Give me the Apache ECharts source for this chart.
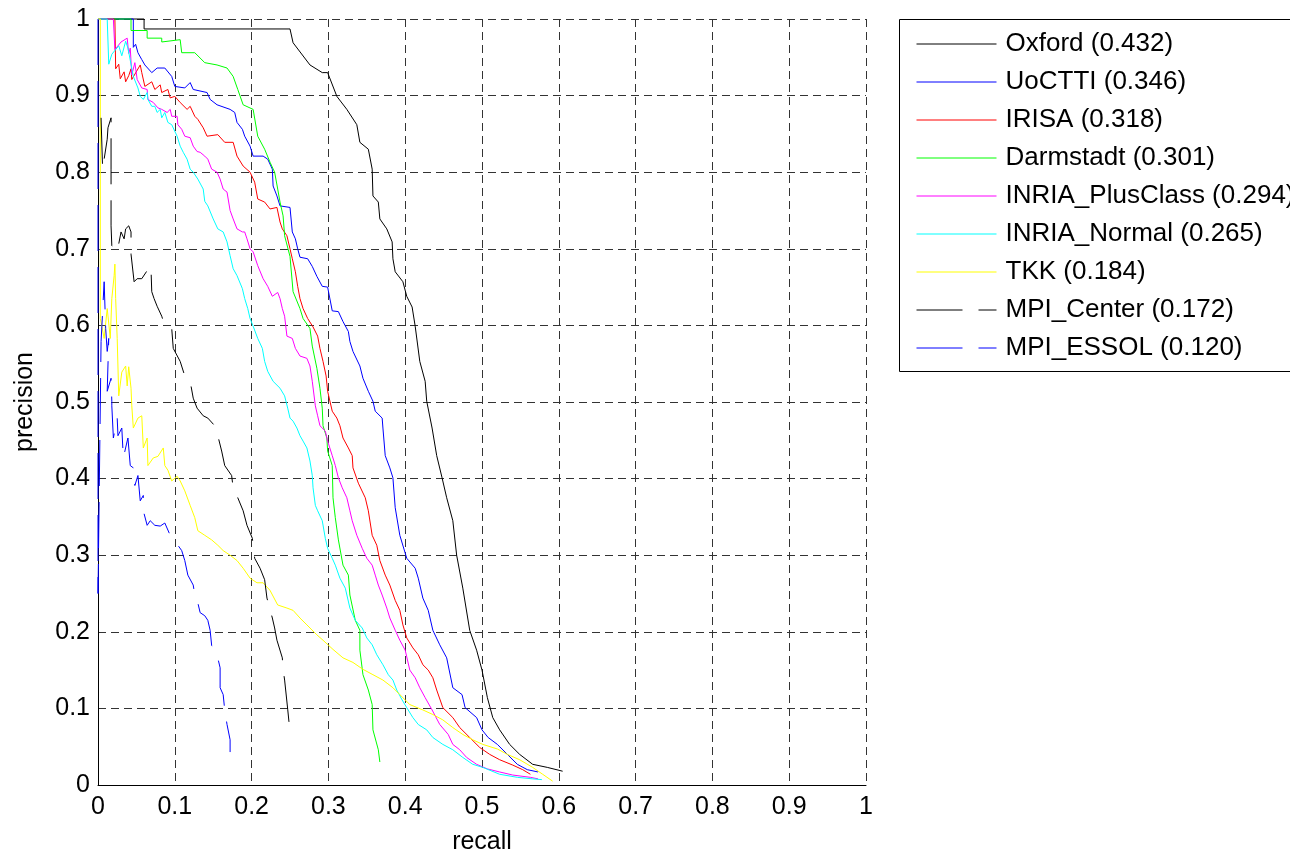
<!DOCTYPE html>
<html>
<head>
<meta charset="utf-8">
<title>precision / recall</title>
<script src="https://cdn.jsdelivr.net/npm/echarts@6/dist/echarts.min.js"></script>
<style>
  html, body { margin: 0; padding: 0; background: #fff; }
  #chart { width: 1290px; height: 860px; }
</style>
</head>
<body>
<div id="chart"></div>
<script>
// method names and AP scores shown in the legend
const methods = ["Oxford", "UoCTTI", "IRISA", "Darmstadt", "INRIA_PlusClass",
  "INRIA_Normal", "TKK", "MPI_Center", "MPI_ESSOL"];
const apScores = ["0.432", "0.346", "0.318", "0.301", "0.294", "0.265", "0.184", "0.172", "0.120"];
const axisTicks = [0, 0.1, 0.2, 0.3, 0.4, 0.5, 0.6, 0.7, 0.8, 0.9, 1];

// [recall, precision]
const oxford = [[0, 1], [0.060, 1], [0.060, 0.987], [0.198, 0.987], [0.25, 0.987], [0.254, 0.969],
  [0.276, 0.94], [0.292, 0.93], [0.299, 0.93], [0.311, 0.899], [0.324, 0.882], [0.337, 0.862],
  [0.341, 0.839], [0.352, 0.83], [0.357, 0.804], [0.358, 0.769], [0.365, 0.761], [0.367, 0.739],
  [0.376, 0.726], [0.383, 0.709], [0.384, 0.687], [0.387, 0.67], [0.397, 0.657], [0.402, 0.638],
  [0.409, 0.624], [0.413, 0.599], [0.419, 0.553], [0.426, 0.527], [0.428, 0.501], [0.435, 0.466],
  [0.441, 0.43], [0.448, 0.401], [0.454, 0.375], [0.462, 0.345], [0.467, 0.3], [0.475, 0.257],
  [0.484, 0.202], [0.493, 0.176], [0.5, 0.15], [0.507, 0.114], [0.514, 0.088], [0.523, 0.072],
  [0.536, 0.053], [0.549, 0.04], [0.566, 0.027], [0.585, 0.023], [0.605, 0.018]];

const uoctti = [[0, 1], [0.046, 1], [0.046, 0.963], [0.049, 0.967], [0.052, 0.956], [0.057, 0.947],
  [0.061, 0.94], [0.07, 0.93], [0.077, 0.936], [0.087, 0.936], [0.096, 0.925], [0.1, 0.912],
  [0.113, 0.91], [0.12, 0.917], [0.124, 0.908], [0.142, 0.904], [0.146, 0.895], [0.155, 0.888],
  [0.172, 0.882], [0.178, 0.878], [0.181, 0.865], [0.188, 0.856], [0.191, 0.847], [0.198, 0.834],
  [0.202, 0.821], [0.215, 0.821], [0.221, 0.817], [0.227, 0.804], [0.228, 0.782], [0.233, 0.769],
  [0.237, 0.756], [0.25, 0.754], [0.253, 0.722], [0.257, 0.713], [0.26, 0.7], [0.263, 0.689],
  [0.273, 0.687], [0.279, 0.677], [0.285, 0.664], [0.292, 0.651], [0.299, 0.65], [0.305, 0.619],
  [0.313, 0.618], [0.319, 0.605], [0.326, 0.592], [0.328, 0.579], [0.332, 0.566], [0.341, 0.547],
  [0.345, 0.531], [0.352, 0.514], [0.358, 0.501], [0.361, 0.488], [0.37, 0.479], [0.371, 0.466],
  [0.374, 0.43], [0.38, 0.414], [0.384, 0.401], [0.387, 0.362], [0.393, 0.326], [0.402, 0.296],
  [0.413, 0.283], [0.417, 0.27], [0.423, 0.244], [0.43, 0.228], [0.436, 0.202], [0.445, 0.183],
  [0.454, 0.166], [0.462, 0.127], [0.474, 0.118], [0.478, 0.101], [0.493, 0.088], [0.5, 0.072],
  [0.508, 0.062], [0.52, 0.053], [0.533, 0.04], [0.546, 0.027], [0.559, 0.02], [0.573, 0.017]];

const irisa = [[0, 1], [0.022, 1], [0.023, 0.935], [0.027, 0.941], [0.029, 0.922], [0.034, 0.931],
  [0.036, 0.918], [0.04, 0.926], [0.043, 0.935], [0.044, 0.921], [0.055, 0.94], [0.057, 0.93],
  [0.061, 0.912], [0.07, 0.918], [0.074, 0.908], [0.081, 0.914], [0.083, 0.904], [0.091, 0.908],
  [0.094, 0.897], [0.1, 0.899], [0.107, 0.891], [0.116, 0.882], [0.12, 0.886], [0.126, 0.873],
  [0.13, 0.869], [0.137, 0.858], [0.142, 0.847], [0.156, 0.849], [0.165, 0.839], [0.176, 0.839],
  [0.181, 0.821], [0.189, 0.808], [0.198, 0.8], [0.204, 0.787], [0.208, 0.765], [0.217, 0.761],
  [0.224, 0.752], [0.233, 0.754], [0.237, 0.735], [0.24, 0.726], [0.246, 0.717], [0.25, 0.7],
  [0.253, 0.687], [0.257, 0.67], [0.26, 0.651], [0.263, 0.635], [0.267, 0.622], [0.273, 0.609],
  [0.28, 0.598], [0.286, 0.586], [0.289, 0.57], [0.293, 0.553], [0.297, 0.534], [0.299, 0.514],
  [0.305, 0.488], [0.311, 0.479], [0.315, 0.469], [0.319, 0.453], [0.326, 0.44], [0.331, 0.43],
  [0.332, 0.414], [0.339, 0.394], [0.348, 0.375], [0.352, 0.358], [0.357, 0.326], [0.363, 0.313],
  [0.367, 0.293], [0.374, 0.274], [0.38, 0.261], [0.387, 0.241], [0.393, 0.228], [0.397, 0.209],
  [0.402, 0.192], [0.41, 0.179], [0.417, 0.17], [0.423, 0.157], [0.43, 0.15], [0.436, 0.14],
  [0.441, 0.124], [0.449, 0.101], [0.462, 0.088], [0.471, 0.075], [0.484, 0.062], [0.497, 0.049],
  [0.51, 0.04], [0.523, 0.033], [0.54, 0.026], [0.553, 0.02], [0.563, 0.014]];

const darmstadt = [[0, 1], [0.043, 1], [0.043, 0.985], [0.064, 0.985], [0.064, 0.975], [0.083, 0.975],
  [0.083, 0.97], [0.107, 0.973], [0.109, 0.956], [0.126, 0.956], [0.139, 0.943], [0.155, 0.94],
  [0.168, 0.936], [0.176, 0.925], [0.182, 0.908], [0.189, 0.888], [0.202, 0.882], [0.208, 0.847],
  [0.217, 0.83], [0.224, 0.813], [0.23, 0.8], [0.234, 0.778], [0.237, 0.761], [0.241, 0.743],
  [0.243, 0.717], [0.25, 0.69], [0.254, 0.644], [0.263, 0.622], [0.267, 0.609], [0.276, 0.596],
  [0.279, 0.573], [0.285, 0.544], [0.289, 0.518], [0.292, 0.492], [0.293, 0.469], [0.298, 0.453],
  [0.299, 0.436], [0.305, 0.417], [0.306, 0.375], [0.309, 0.349], [0.313, 0.32], [0.319, 0.287],
  [0.326, 0.274], [0.328, 0.248], [0.335, 0.215], [0.341, 0.202], [0.341, 0.176], [0.345, 0.144],
  [0.352, 0.124], [0.357, 0.105], [0.358, 0.072], [0.365, 0.046], [0.367, 0.03]];

const inriaPlus = [[0, 1], [0.02, 1], [0.022, 0.96], [0.03, 0.97], [0.038, 0.975], [0.04, 0.955],
  [0.042, 0.962], [0.044, 0.927], [0.048, 0.943], [0.051, 0.921], [0.057, 0.91], [0.064, 0.908],
  [0.065, 0.895], [0.072, 0.891], [0.078, 0.884], [0.083, 0.882], [0.09, 0.878], [0.094, 0.882],
  [0.096, 0.873], [0.103, 0.873], [0.104, 0.862], [0.109, 0.856], [0.113, 0.847], [0.12, 0.845],
  [0.124, 0.834], [0.129, 0.827], [0.133, 0.826], [0.139, 0.821], [0.143, 0.817], [0.148, 0.804],
  [0.155, 0.8], [0.159, 0.791], [0.163, 0.778], [0.168, 0.774], [0.172, 0.75], [0.176, 0.739],
  [0.181, 0.726], [0.188, 0.722], [0.191, 0.722], [0.194, 0.713], [0.198, 0.7], [0.202, 0.696],
  [0.208, 0.678], [0.215, 0.661], [0.221, 0.651], [0.227, 0.638], [0.234, 0.643], [0.237, 0.635],
  [0.24, 0.622], [0.243, 0.612], [0.246, 0.586], [0.253, 0.583], [0.257, 0.57], [0.263, 0.56],
  [0.272, 0.557], [0.276, 0.547], [0.279, 0.527], [0.283, 0.495], [0.286, 0.482], [0.289, 0.469],
  [0.296, 0.462], [0.299, 0.449], [0.305, 0.43], [0.309, 0.417], [0.313, 0.401], [0.318, 0.388],
  [0.324, 0.375], [0.328, 0.358], [0.331, 0.345], [0.337, 0.326], [0.344, 0.309], [0.35, 0.296],
  [0.357, 0.287], [0.361, 0.274], [0.365, 0.261], [0.37, 0.248], [0.376, 0.231], [0.38, 0.218],
  [0.387, 0.202], [0.393, 0.189], [0.4, 0.176], [0.406, 0.15], [0.413, 0.14], [0.419, 0.127],
  [0.426, 0.114], [0.435, 0.098], [0.445, 0.079], [0.456, 0.066], [0.462, 0.053], [0.471, 0.046],
  [0.48, 0.036], [0.493, 0.027], [0.507, 0.021], [0.523, 0.017], [0.54, 0.013], [0.563, 0.01],
  [0.573, 0.008]];

const inriaNormal = [[0, 1], [0.012, 1], [0.014, 0.941], [0.018, 0.954], [0.027, 0.965], [0.031, 0.952],
  [0.036, 0.971], [0.039, 0.962], [0.046, 0.925], [0.052, 0.91], [0.055, 0.899], [0.059, 0.895],
  [0.064, 0.904], [0.065, 0.895], [0.07, 0.886], [0.074, 0.886], [0.077, 0.878], [0.081, 0.882],
  [0.083, 0.871], [0.087, 0.878], [0.091, 0.865], [0.096, 0.862], [0.103, 0.847], [0.107, 0.834],
  [0.111, 0.826], [0.116, 0.817], [0.12, 0.804], [0.124, 0.8], [0.13, 0.791], [0.137, 0.778],
  [0.139, 0.762], [0.143, 0.756], [0.15, 0.739], [0.156, 0.726], [0.163, 0.722], [0.168, 0.709],
  [0.172, 0.691], [0.176, 0.674], [0.181, 0.665], [0.188, 0.648], [0.191, 0.635], [0.195, 0.622],
  [0.198, 0.609], [0.202, 0.599], [0.208, 0.583], [0.214, 0.57], [0.217, 0.553], [0.221, 0.54],
  [0.228, 0.527], [0.237, 0.518], [0.243, 0.508], [0.247, 0.492], [0.25, 0.479], [0.254, 0.475],
  [0.259, 0.466], [0.263, 0.456], [0.267, 0.449], [0.272, 0.44], [0.276, 0.423], [0.279, 0.404],
  [0.28, 0.388], [0.283, 0.365], [0.286, 0.358], [0.292, 0.345], [0.296, 0.322], [0.299, 0.309],
  [0.305, 0.296], [0.309, 0.287], [0.315, 0.27], [0.322, 0.257], [0.328, 0.231], [0.335, 0.215],
  [0.344, 0.205], [0.35, 0.192], [0.357, 0.183], [0.363, 0.17], [0.371, 0.157], [0.378, 0.144],
  [0.384, 0.137], [0.389, 0.124], [0.396, 0.111], [0.402, 0.101], [0.41, 0.088], [0.417, 0.079],
  [0.428, 0.072], [0.436, 0.062], [0.449, 0.053], [0.462, 0.046], [0.475, 0.036], [0.488, 0.027],
  [0.501, 0.023], [0.523, 0.014], [0.546, 0.01], [0.566, 0.008], [0.578, 0.007]];

const tkk = [[0, 1], [0.003, 1], [0.003, 0.609], [0.008, 0.583], [0.012, 0.622], [0.016, 0.583],
  [0.018, 0.635], [0.021, 0.665], [0.022, 0.68], [0.023, 0.635], [0.025, 0.583], [0.027, 0.508],
  [0.031, 0.539], [0.036, 0.547], [0.038, 0.521], [0.04, 0.546], [0.043, 0.518], [0.044, 0.495],
  [0.046, 0.466], [0.052, 0.479], [0.057, 0.482], [0.059, 0.44], [0.064, 0.453], [0.065, 0.417],
  [0.072, 0.427], [0.078, 0.429], [0.085, 0.44], [0.087, 0.417], [0.091, 0.411], [0.096, 0.397],
  [0.103, 0.403], [0.107, 0.397], [0.113, 0.384], [0.12, 0.365], [0.126, 0.349], [0.13, 0.332],
  [0.139, 0.326], [0.148, 0.32], [0.156, 0.313], [0.163, 0.306], [0.172, 0.3], [0.181, 0.293],
  [0.189, 0.283], [0.198, 0.27], [0.207, 0.264], [0.215, 0.264], [0.224, 0.254], [0.234, 0.235],
  [0.246, 0.231], [0.254, 0.228], [0.263, 0.218], [0.272, 0.209], [0.285, 0.196], [0.293, 0.189],
  [0.306, 0.177], [0.319, 0.166], [0.332, 0.16], [0.345, 0.151], [0.358, 0.144], [0.371, 0.137],
  [0.384, 0.127], [0.393, 0.118], [0.406, 0.105], [0.423, 0.098], [0.436, 0.092], [0.449, 0.085],
  [0.462, 0.075], [0.475, 0.066], [0.488, 0.059], [0.501, 0.053], [0.52, 0.047], [0.533, 0.04],
  [0.549, 0.033], [0.566, 0.023], [0.579, 0.014], [0.592, 0.005]];

const mpiCenter = [[0.004, 0.871], [0.006, 0.804], [0.012, 0.843], [0.013, 0.858], [0.017, 0.871],
  [0.017, 0.804], [0.017, 0.73], [0.018, 0.704], [0.025, 0.696], [0.03, 0.722], [0.034, 0.713],
  [0.036, 0.726], [0.04, 0.73], [0.043, 0.722], [0.043, 0.693], [0.047, 0.657], [0.051, 0.661],
  [0.057, 0.661], [0.063, 0.67], [0.066, 0.678], [0.069, 0.674], [0.07, 0.644], [0.073, 0.635],
  [0.077, 0.625], [0.083, 0.612], [0.087, 0.599], [0.096, 0.596], [0.098, 0.57], [0.107, 0.553],
  [0.113, 0.534], [0.12, 0.527], [0.124, 0.505], [0.129, 0.492], [0.137, 0.482], [0.143, 0.479],
  [0.152, 0.469], [0.156, 0.456], [0.161, 0.436], [0.165, 0.417], [0.174, 0.404], [0.176, 0.388],
  [0.182, 0.375], [0.189, 0.358], [0.194, 0.339], [0.201, 0.322], [0.204, 0.296], [0.211, 0.283],
  [0.217, 0.268], [0.22, 0.244], [0.227, 0.218], [0.23, 0.205], [0.233, 0.189], [0.24, 0.166],
  [0.241, 0.151], [0.243, 0.137], [0.247, 0.099], [0.249, 0.079]];

const mpiEssol = [[0, 1], [0, 0.25], [0.004, 0.579], [0.008, 0.657], [0.01, 0.596], [0.012, 0.566],
  [0.014, 0.583], [0.012, 0.514], [0.017, 0.531], [0.018, 0.501], [0.018, 0.495], [0.02, 0.453],
  [0.025, 0.479], [0.026, 0.456], [0.031, 0.466], [0.033, 0.427], [0.038, 0.449], [0.039, 0.453],
  [0.042, 0.417], [0.046, 0.414], [0.048, 0.391], [0.052, 0.404], [0.055, 0.371], [0.059, 0.378],
  [0.059, 0.358], [0.064, 0.339], [0.068, 0.345], [0.074, 0.339], [0.081, 0.338], [0.087, 0.342],
  [0.094, 0.326], [0.1, 0.319], [0.104, 0.313], [0.109, 0.306], [0.113, 0.293], [0.117, 0.274],
  [0.124, 0.261], [0.126, 0.248], [0.129, 0.242], [0.133, 0.225], [0.139, 0.221], [0.143, 0.215],
  [0.146, 0.202], [0.148, 0.182], [0.155, 0.17], [0.159, 0.153], [0.159, 0.127], [0.163, 0.118],
  [0.165, 0.098], [0.168, 0.079], [0.172, 0.059], [0.172, 0.043]];

const curves = [oxford, uoctti, irisa, darmstadt, inriaPlus, inriaNormal, tkk, mpiCenter, mpiEssol];
const colors = ["#000000", "#0000ff", "#ff0000", "#00ff00", "#ff00ff", "#00ffff", "#ffff00", "#000000", "#0000ff"];
const dashed = [false, false, false, false, false, false, false, true, true];

const font = "'Liberation Sans', Arial, sans-serif";
const chart = echarts.init(document.getElementById("chart"));

const series = curves.map((data, i) => ({
  name: methods[i] + " (" + apScores[i] + ")",
  type: "line",
  data: data,
  symbol: "none",
  clip: false,
  color: colors[i],
  lineStyle: {
    color: colors[i],
    width: 1,
    type: dashed[i] ? [46, 16] : "solid",
  },
}));

const gridLine = { show: true, lineStyle: { color: "#333", width: 1, type: [8, 5] } };

chart.setOption({
  animation: false,
  backgroundColor: "#fff",
  textStyle: { fontFamily: font },
  grid: { left: 98, top: 19, width: 768, height: 769 },
  graphic: [{
    type: "rect",
    left: 899, top: 19, z: 0,
    shape: { width: 430, height: 352 },
    style: { fill: "#fff", stroke: "#000", lineWidth: 1 },
  }],
  legend: {
    orient: "vertical",
    left: 916,
    top: 31,
    itemWidth: 80,
    itemHeight: 24,
    itemGap: 12,
    padding: 0,
    z: 10,
    // hide the marker dot, keep only the line sample
    itemStyle: { color: "transparent", borderWidth: 0, opacity: 0 },
    lineStyle: { width: 1 },
    textStyle: { fontFamily: font, fontSize: 26, color: "#000", lineHeight: 24, padding: [0, 0, 0, 4] },
    data: series.map((s) => s.name),
  },
  xAxis: {
    type: "value",
    min: 0, max: 1, interval: 0.1,
    name: "recall",
    nameLocation: "middle",
    nameGap: 45,
    nameTextStyle: { fontFamily: font, fontSize: 25, color: "#000" },
    axisLine: { show: true, lineStyle: { color: "#000", width: 1 } },
    axisTick: { show: false },
    axisLabel: {
      fontFamily: font, fontSize: 25, color: "#000", margin: 10,
      formatter: (v) => String(axisTicks[Math.round(v * 10)]),
    },
    splitLine: gridLine,
  },
  yAxis: {
    type: "value",
    min: 0, max: 1, interval: 0.1,
    name: "precision",
    nameLocation: "middle",
    nameGap: 60,
    nameTextStyle: { fontFamily: font, fontSize: 25, color: "#000" },
    axisLine: { show: true, lineStyle: { color: "#000", width: 1 } },
    axisTick: { show: false },
    axisLabel: {
      fontFamily: font, fontSize: 25, color: "#000", margin: 8,
      formatter: (v) => String(axisTicks[Math.round(v * 10)]),
    },
    splitLine: gridLine,
  },
  series: series,
});
</script>
</body>
</html>
